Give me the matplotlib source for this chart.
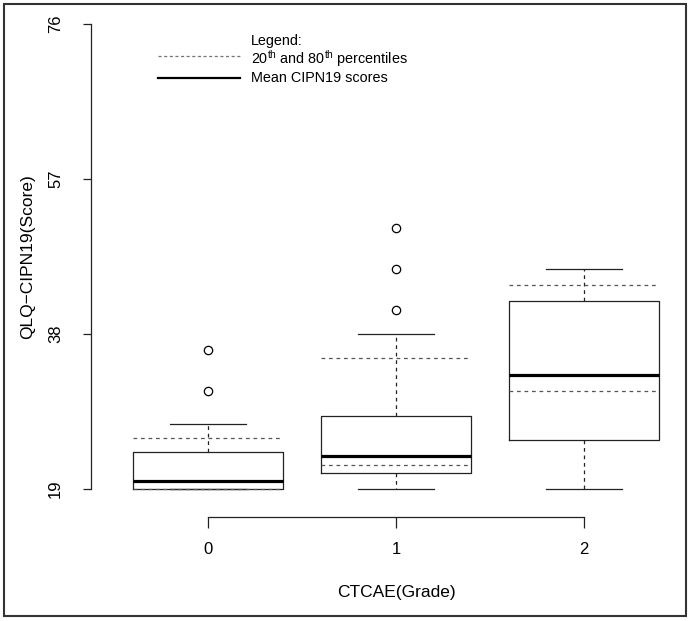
import matplotlib
matplotlib.use("Agg")
import matplotlib.pyplot as plt
from matplotlib.lines import Line2D
from matplotlib.patches import Rectangle

plt.rcParams['font.family'] = ['Liberation Sans', 'DejaVu Sans']
plt.rcParams['mathtext.fontset'] = 'custom'
plt.rcParams['mathtext.rm'] = 'Liberation Sans'

# data
grades = ['0', '1', '2']
whislo = [19, 19, 19]
q1 = [19, 21, 25]
med = [20, 23, 33]
q3 = [23.5, 28, 42]
whishi = [27, 38, 46]
p20 = [19, 22, 31]
p80 = [25.3, 35, 44]
outliers = [[31, 36], [41, 46, 51], []]
yticks = [19, 38, 57, 76]

W, H = 691, 621
fig = plt.figure(figsize=(W / 100, H / 100), dpi=100)

# axes placed in pixel terms (R-like layout)
left_px, right_px, top_px, bot_px = 91, 686, 24, 517
y19_px = 489
ax = fig.add_axes([left_px / W, (H - bot_px) / H,
                   (right_px - left_px) / W, (bot_px - top_px) / H])
pxu = (y19_px - top_px) / (76 - 19)
ax.set_ylim(19 - (bot_px - y19_px) / pxu, 76)
ax.set_xlim((left_px - 208) / 188, (right_px - 208) / 188)

pos = list(range(len(grades)))
stats = []
for i in pos:
    stats.append(dict(whislo=whislo[i], q1=q1[i], med=med[i], q3=q3[i],
                      whishi=whishi[i], fliers=outliers[i]))

dark = '#222222'
ax.bxp(stats, positions=pos, widths=0.8, capwidths=0.4,
       boxprops=dict(color=dark, lw=0.9),
       whiskerprops=dict(color=dark, lw=0.9, linestyle=(0, (3, 3))),
       capprops=dict(color=dark, lw=0.9),
       medianprops=dict(color='black', lw=2.3, solid_capstyle='butt'),
       flierprops=dict(marker='o', mfc='none', mec='black', ms=6, mew=0.9))

# 20th / 80th percentile lines
for i in pos:
    ax.hlines([p20[i], p80[i]], i - 0.4, i + 0.4, colors='#555555', lw=0.9,
              linestyles=[(0, (3, 3))], zorder=3)

for s in ['top', 'right']:
    ax.spines[s].set_visible(False)
ax.spines['left'].set_bounds(19, 76)
ax.spines['bottom'].set_bounds(0, 2)
for s in ['left', 'bottom']:
    ax.spines[s].set_color(dark)
    ax.spines[s].set_linewidth(0.9)

ax.set_yticks(yticks)
ax.set_yticklabels([str(v) for v in yticks])
ax.set_xticks(pos)
ax.set_xticklabels(grades)
ax.tick_params(axis='y', length=6, width=0.9, pad=14, labelsize=12,
               labelrotation=90, color=dark)
ax.tick_params(axis='x', length=8, width=0.9, pad=10, labelsize=12, color=dark)
for lbl in ax.get_yticklabels():
    lbl.set_va('center')

fig.text(28 / W, 1 - 257 / H, 'QLQ\u2212CIPN19(Score)', rotation=90,
         ha='center', va='center', fontsize=12.5)
fig.text(396 / W, 1 - 593 / H, 'CTCAE(Grade)', ha='center', va='center',
         fontsize=12.5)

# legend drawn by hand, R style
fig.add_artist(Line2D([158 / W, 240 / W], [1 - 56 / H, 1 - 56 / H],
                      color='#777777', lw=0.9, linestyle=(0, (2.5, 2))))
fig.add_artist(Line2D([158 / W, 240 / W], [1 - 78 / H, 1 - 78 / H],
                      color='black', lw=1.6))
fig.text(251 / W, 1 - 45.5 / H, 'Legend:', fontsize=10.4, va='baseline')
fig.text(251 / W, 1 - 63.5 / H,
         '20$^{\\mathrm{th}}$ and 80$^{\\mathrm{th}}$ percentiles',
         fontsize=10.4, va='baseline')
fig.text(251 / W, 1 - 81.5 / H, 'Mean CIPN19 scores', fontsize=10.4,
         va='baseline')

# outer frame
fig.add_artist(Rectangle((4 / W, 1 - 616 / H), (686 - 4) / W, (616 - 4) / H,
                         transform=fig.transFigure, fill=False,
                         edgecolor='#333333', lw=1.5))

fig.savefig('out.png', dpi=100)
